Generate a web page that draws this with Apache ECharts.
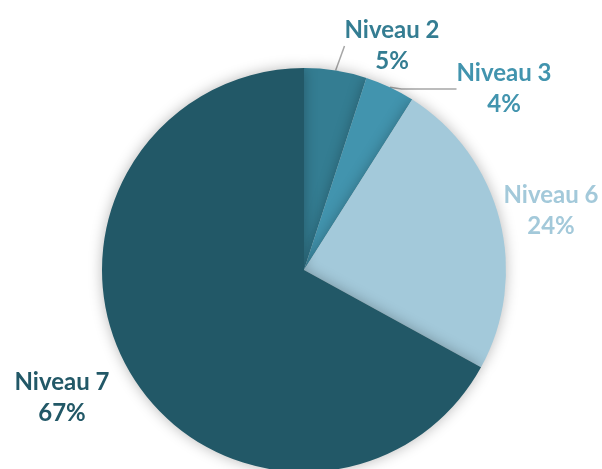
<!DOCTYPE html>
<html>
<head>
<meta charset="utf-8">
<style>
  html, body { margin: 0; padding: 0; background: #fff; }
  #chart { width: 602px; height: 469px; }
</style>
<script src="https://cdn.jsdelivr.net/npm/echarts@6/dist/echarts.min.js"></script>
</head>
<body>
<div id="chart"></div>
<script>
// données du graphique
const NIVEAUX = ['Niveau 2', 'Niveau 3', 'Niveau 6', 'Niveau 7']
const PARTS = [5, 4, 24, 67]
const COULEURS = ['#347d92', '#4294ae', '#a3c9da', '#225867']

// ligne de rappel visible seulement pour les petites parts
const LIGNES = [
  { show: true, length: 28, length2: 0 },
  { show: true, length: 6, length2: 55 },
  { show: false },
  { show: false }
]
// centre des étiquettes (px)
const POS_ETIQ = [[392, 46], [504, 89], [551, 211], [62, 398]]

const chart = echarts.init(document.getElementById('chart'))

chart.setOption({
  animation: false,
  series: [{
    type: 'pie',
    center: [304, 270],
    radius: 202,
    startAngle: 90,
    clockwise: true,
    avoidLabelOverlap: false,
    itemStyle: {
      shadowBlur: 14,
      shadowColor: 'rgba(0,0,0,0.28)'
    },
    label: {
      show: true,
      position: 'outside',
      alignTo: 'none',
      formatter: '{b}\n{d}%',
      fontFamily: 'Lato',
      fontWeight: 'bold',
      fontSize: 24,
      lineHeight: 31
    },
    labelLine: {
      lineStyle: { color: '#a6a6a6', width: 1.5 }
    },
    labelLayout: function (params) {
      const p = POS_ETIQ[params.dataIndex]
      return { x: p[0], y: p[1], align: 'center', verticalAlign: 'middle' }
    },
    data: NIVEAUX.map((n, i) => ({
      name: n,
      value: PARTS[i],
      itemStyle: { color: COULEURS[i] },
      label: { color: COULEURS[i] },
      labelLine: LIGNES[i]
    }))
  }]
})
</script>
</body>
</html>
